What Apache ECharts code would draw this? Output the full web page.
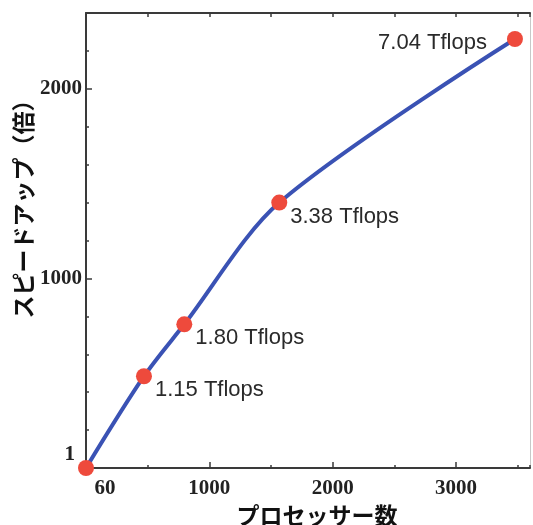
<!DOCTYPE html>
<html>
<head>
<meta charset="utf-8">
<script src="https://cdn.jsdelivr.net/npm/echarts@6/dist/echarts.min.js"></script>
<style>
html,body{margin:0;padding:0;background:#fff;}
#chart{width:533px;height:525px;}
</style>
</head>
<body>
<div id="chart"></div>
<script>
// Data (origin point = 60 processors, speedup 1)
const processors = [0, 470, 797, 1567, 3478];
const speedup = [0, 484, 758, 1400, 2263];
const pointLabels = ['', '1.15 Tflops', '1.80 Tflops', '3.38 Tflops', '7.04 Tflops'];
const xTickValues = [0, 1000, 2000, 3000];
const xTickLabels = ['60', '1000', '2000', '3000'];
const yTickValues = [0, 1000, 2000];
const yTickLabels = ['1', '1000', '2000'];
const xTitle = 'プロセッサー数';
const yTitle = 'スピードアップ（倍）';

const axisColor = '#3a3a3a';
const serif = '"Liberation Serif","DejaVu Serif",serif';
const cjk = '"Noto Sans CJK JP","Noto Sans CJK SC",sans-serif';

function xLabel(v) {
  const i = xTickValues.indexOf(v);
  if (i < 0) return '';
  return i === 0 ? '{o|' + xTickLabels[i] + '}' : xTickLabels[i];
}
function yLabel(v) {
  const i = yTickValues.indexOf(v);
  if (i < 0) return '';
  return i === 0 ? '{o|' + yTickLabels[i] + '}' : yTickLabels[i];
}

const seriesData = processors.map((x, i) => {
  const item = { value: [x, speedup[i]], name: pointLabels[i] };
  if (i === processors.length - 1) {
    item.label = { position: 'left', offset: [-15, 4] };
  }
  return item;
});

const gridBox = { left: 86, right: 3, top: 13, bottom: 57, outerBoundsMode: 'none' };
const minorTick = { show: true, inside: true, length: 3, lineStyle: { color: axisColor, width: 1.5 } };

const chart = echarts.init(document.getElementById('chart'), null, { renderer: 'canvas' });
chart.setOption({
  animation: false,
  backgroundColor: '#ffffff',
  grid: [Object.assign({}, gridBox), Object.assign({}, gridBox)],
  xAxis: [
    {
      gridIndex: 0, type: 'value', min: 0, max: 3600, interval: 1000, position: 'bottom',
      name: xTitle, nameLocation: 'middle', nameGap: 36,
      nameTextStyle: { fontFamily: cjk, fontWeight: 'bold', fontSize: 23, color: '#111', padding: [0, 0, 0, 18] },
      axisLine: { show: true, onZero: false, lineStyle: { color: axisColor, width: 2 } },
      axisTick: { show: true, inside: true, length: 6, lineStyle: { color: axisColor, width: 1.5 } },
      axisLabel: {
        formatter: xLabel, showMaxLabel: false, margin: 10,
        fontFamily: serif, fontWeight: 'bold', fontSize: 21, color: '#222',
        rich: { o: { fontFamily: serif, fontWeight: 'bold', fontSize: 21, color: '#222', padding: [0, 0, 0, 38] } }
      },
      splitLine: { show: false }
    },
    {
      gridIndex: 0, type: 'value', min: 0, max: 3600, interval: 500, position: 'top',
      axisLine: { show: true, onZero: false, lineStyle: { color: axisColor, width: 2 } },
      axisTick: { show: true, inside: true, length: 4, lineStyle: { color: axisColor, width: 1.5 } },
      axisLabel: { show: false }, splitLine: { show: false }
    },
    {
      gridIndex: 1, type: 'value', min: 0, max: 3600, interval: 500, position: 'bottom',
      axisLine: { show: false, onZero: false }, axisTick: minorTick,
      axisLabel: { show: false }, splitLine: { show: false }
    }
  ],
  yAxis: [
    {
      gridIndex: 0, type: 'value', min: 0, max: 2400, interval: 1000, position: 'left',
      name: yTitle, nameLocation: 'middle', nameGap: 51, nameRotate: 90, nameMoveOverlap: false,
      nameTextStyle: { fontFamily: cjk, fontWeight: 'bold', fontSize: 23, color: '#111', padding: [0, 0, 0, 74] },
      axisLine: { show: true, onZero: false, lineStyle: { color: axisColor, width: 2 } },
      axisTick: { show: true, inside: true, length: 6, lineStyle: { color: axisColor, width: 1.5 } },
      axisLabel: {
        formatter: yLabel, showMaxLabel: false, margin: 4,
        fontFamily: serif, fontWeight: 'bold', fontSize: 21, color: '#222',
        rich: { o: { fontFamily: serif, fontWeight: 'bold', fontSize: 21, color: '#222', padding: [0, 7, 26, 0] } }
      },
      splitLine: { show: false }
    },
    {
      gridIndex: 0, type: 'value', min: 0, max: 2400, interval: 200, position: 'right',
      axisLine: { show: true, onZero: false, lineStyle: { color: '#c8c8c8', width: 1 } },
      axisTick: { show: false },
      axisLabel: { show: false }, splitLine: { show: false }
    },
    {
      gridIndex: 1, type: 'value', min: 0, max: 2400, interval: 200, position: 'left',
      axisLine: { show: false, onZero: false }, axisTick: minorTick,
      axisLabel: { show: false }, splitLine: { show: false }
    }
  ],
  series: [{
    type: 'line',
    xAxisIndex: 0, yAxisIndex: 0,
    data: seriesData,
    smooth: 0.3,
    clip: false,
    lineStyle: { color: '#3a52b4', width: 4 },
    symbol: 'circle', symbolSize: 16,
    itemStyle: { color: '#ee4a3c' },
    z: 3,
    label: {
      show: true, position: 'right', offset: [-2, 14],
      formatter: p => p.name,
      fontFamily: '"Liberation Sans",Arial,sans-serif', fontSize: 22, color: '#2a2a2a'
    }
  }]
});
</script>
</body>
</html>
